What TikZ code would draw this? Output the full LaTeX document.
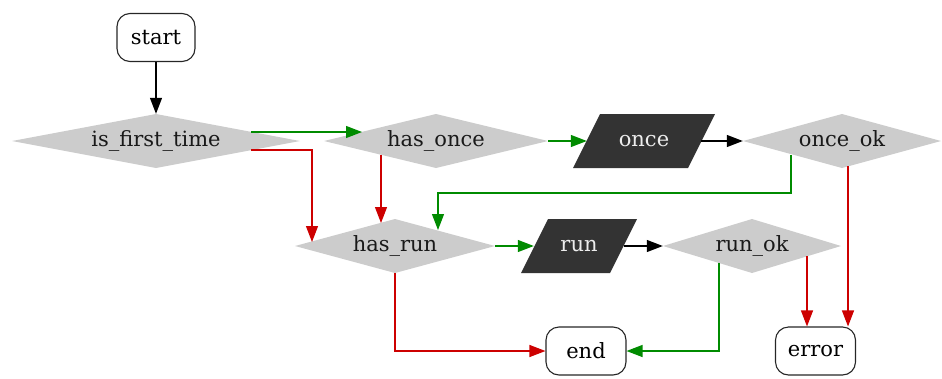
\documentclass[tikz,border=0pt]{standalone}
\usepackage{fontspec}
\setmainfont{DejaVu Serif}
\usetikzlibrary{shapes.geometric,arrows.meta,calc}
\definecolor{gfill}{RGB}{204,204,204}
\definecolor{dfill}{RGB}{51,51,51}
\definecolor{ggreen}{RGB}{0,139,0}
\definecolor{gred}{RGB}{205,0,0}
\tikzset{
  every node/.style={font=\fontsize{21}{23}\selectfont, inner sep=0pt},
  term/.style={draw=black!85, line width=1.1pt, rounded corners=13pt, minimum height=48pt},
  decision/.style={rectangle, minimum height=54pt, text=black!90,
    path picture={\fill[gfill] (path picture bounding box.north) -- (path picture bounding box.east)
      -- (path picture bounding box.south) -- (path picture bounding box.west) -- cycle;}},
  proc/.style={rectangle, minimum height=54pt, text=white!93!black,
    path picture={\fill[dfill] (path picture bounding box.south west)
      -- ($(path picture bounding box.south east)+(-27,0)$)
      -- (path picture bounding box.north east)
      -- ($(path picture bounding box.north west)+(27,0)$) -- cycle;}},
  edge/.style={line width=1.2pt, -{Triangle[length=16pt,width=12pt]}},
  yes/.style={edge, draw=ggreen, color=ggreen},
  no/.style={edge, draw=gred, color=gred},
  plain/.style={edge, draw=black}
}
\begin{document}
\begin{tikzpicture}[x=1pt,y=-1pt]
\useasboundingbox (0,0) rectangle (942,378);
% nodes
\node[term, minimum width=78pt] (start) at (156,37.5) {start};
\node[decision, minimum width=288pt] (ift) at (156,141) {is\_first\_time};
\node[decision, minimum width=224pt] (ho) at (436,141) {has\_once};
\node[proc, minimum width=142pt] (once) at (644,141) {once};
\node[decision, minimum width=198pt] (ook) at (842,141) {once\_ok};
\node[decision, minimum width=200pt] (hr) at (395,246) {has\_run};
\node[proc, minimum width=116pt] (run) at (579,246) {run};
\node[decision, minimum width=178pt] (rok) at (752,246) {run\_ok};
\node[term, minimum width=80pt] (end) at (586,351) {end};
\node[term, minimum width=80pt] (error) at (815.5,351) {error};
% edges
\draw[plain] (start) -- (ift.north);
\draw[yes] ($(ift.center)+(95,-9)$) -- ($(ho.center)+(-74,-9)$);
\draw[no] ($(ift.center)+(95,9)$) -| ($(hr.center)+(-83,-4)$);
\draw[yes] (ho.east) -- ($(once.west)+(14,0)$);
\draw[no] ($(ho.center)+(-55,14)$) -- ($(hr.center)+(-14,-23)$);
\draw[plain] ($(once.east)+(-14,0)$) -- (ook.west);
\draw[yes] ($(ook.center)+(-51,14)$) -- ++(0,38) -| ($(hr.center)+(43,-16)$);
\draw[no] ($(ook.center)+(6,25)$) -- (error.north -| {$(ook.center)+(6,0)$});
\draw[yes] (hr.east) -- ($(run.west)+(13,0)$);
\draw[plain] ($(run.east)+(-13,0)$) -- (rok.west);
\draw[no] (hr.south) |- (end.west);
\draw[yes] ($(rok.center)+(-33,17)$) |- (end.east);
\draw[no] ($(rok.center)+(55,10)$) -- (error.north -| {$(rok.center)+(55,0)$});
\end{tikzpicture}
\end{document}
